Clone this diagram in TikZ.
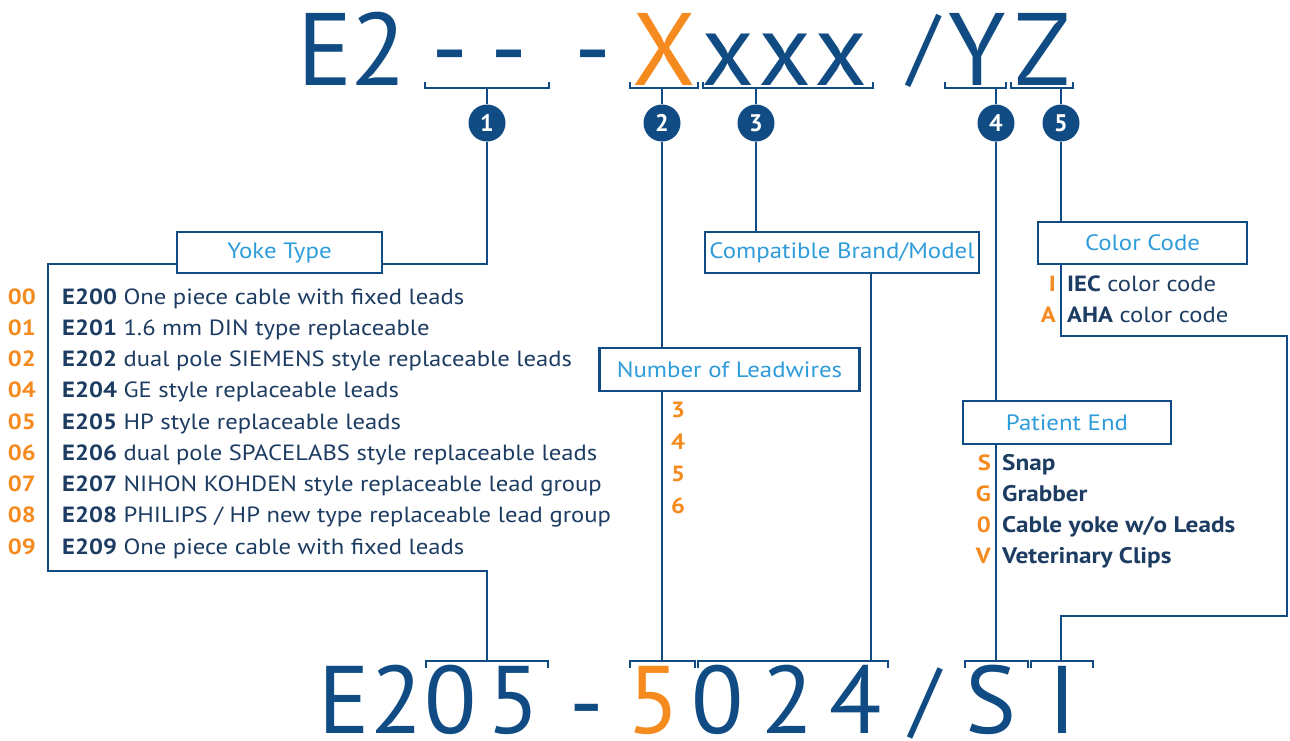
\documentclass[tikz,border=0pt]{standalone}
\usepackage{fontspec}
\setmainfont{PT Sans}
\newfontfamily\smf{PT Sans}[FakeStretch=1.12]
\definecolor{navy}{HTML}{104C83}
\definecolor{textnavy}{HTML}{1D3C62}
\definecolor{orng}{HTML}{F58A1F}
\definecolor{lblue}{HTML}{2E9CDB}
\tikzset{
  conn/.style={draw=navy, line width=2.4pt},
  brk/.style={draw=navy, line width=2.2pt},
  lbl/.style={draw=navy, line width=2.2pt, fill=white, text=lblue, font=\smf\fontsize{22.2}{24}\selectfont, inner sep=0pt},
  circ/.style={circle, fill=navy, text=white, font=\bfseries\fontsize{24}{24}\selectfont, minimum size=37pt, inner sep=0pt},
  bigt/.style={anchor=base, inner sep=0pt, text=navy, font=\fontsize{103}{110}\selectfont},
  bigb/.style={anchor=base, inner sep=0pt, text=navy, font=\fontsize{96}{100}\selectfont},
  numr/.style={anchor=base east, inner sep=0pt, text=orng, font=\smf\bfseries\fontsize{22}{24}\selectfont},
  numl/.style={anchor=base west, inner sep=0pt, text=orng, font=\smf\bfseries\fontsize{22}{24}\selectfont},
  desc/.style={anchor=base west, inner sep=0pt, text=textnavy, font=\smf\fontsize{22}{24}\selectfont},
  descb/.style={desc, font=\smf\bfseries\fontsize{22.5}{24}\selectfont}
}
\begin{document}
\begin{tikzpicture}[x=1pt,y=-1pt]
\useasboundingbox[fill=white] (0,0) rectangle (1290,740);

% ---------- top code ----------
\node[bigt] (tE) at (325,85) {E};
\node[bigt] (t2) at (378.5,85) {2};
\node[bigt] (td1) at (450,83) {-};
\node[bigt] (td2) at (509.5,83) {-};
\node[bigt] (td3) at (593.5,83) {-};
\node[bigt, text=orng] (tX) at (664,85) {X};
\node[bigt] (tx1) at (728.5,85) {x};
\node[bigt] (tx2) at (785,85) {x};
\node[bigt] (tx3) at (841.5,85) {x};
\node[bigt, font=\fontsize{86}{90}\selectfont] (tsl) at (923.5,75) {/};
\node[bigt] (tY) at (977.5,85) {Y};
\node[bigt] (tZ) at (1042.5,85) {Z};

% top brackets
\draw[brk] (425,82) |- (549,88) -- (549,82);
\draw[brk] (630,82) |- (698,88) -- (698,82);
\draw[brk] (703,82) |- (873,88) -- (873,82);
\draw[brk] (945,82) |- (1006,88) -- (1006,82);
\draw[brk] (1011,82) |- (1073,88) -- (1073,82);
\coordinate (b1) at (487,88);
\coordinate (b2) at (662,88);
\coordinate (b3) at (756,88);
\coordinate (b4) at (996,88);
\coordinate (b5) at (1061,88);

% circles
\node[circ] (c1) at (487,123) {1};
\node[circ] (c2) at (662,123) {2};
\node[circ] (c3) at (756,123) {3};
\node[circ] (c4) at (996,123) {4};
\node[circ] (c5) at (1061,123) {5};
\foreach \k in {1,...,5} \draw[conn] (c\k.north) -- (b\k);

% ---------- bottom code ----------
\node[bigb] (bE) at (344,733) {E};
\node[bigb] (b2a) at (396.5,733) {2};
\node[bigb] (b0a) at (450.5,733) {0};
\node[bigb] (b5a) at (513.5,733) {5};
\node[bigb] (bd) at (586.5,735) {-};
\node[bigb, text=orng] (b5b) at (654,733) {5};
\node[bigb] (b0b) at (717.5,733) {0};
\node[bigb] (b2b) at (787.5,733) {2};
\node[bigb] (b4b) at (856,733) {4};
\node[bigb, font=\fontsize{84}{90}\selectfont] (bsl) at (925,727) {/};
\node[bigb] (bS) at (991,733) {S};
\node[bigb] (bI) at (1062.5,733) {I};

% bottom brackets
\draw[brk] (426,668) |- (548,661) -- (548,668);
\draw[brk] (630,668) |- (695,661) -- (695,668);
\draw[brk] (698,668) |- (888,661) -- (888,668);
\draw[brk] (965,668) |- (1028,661) -- (1028,668);
\draw[brk] (1031,668) |- (1093,661) -- (1093,668);
\coordinate (B1) at (487,661);
\coordinate (B2) at (662,661);
\coordinate (B3) at (871,661);
\coordinate (B4) at (996,661);
\coordinate (B5) at (1061,661);

% ---------- connectors ----------
\coordinate (k1) at (487,264);
\coordinate (f1) at (48,264);
\coordinate (f2) at (48,571);
\coordinate (f3) at (487,571);
\coordinate (r1) at (1061,336);
\coordinate (r2) at (1287,336);
\coordinate (r3) at (1287,616);
\coordinate (r4) at (1061,616);

\node[lbl, minimum width=205pt, minimum height=41pt] (yoke) at (279.5,252.5) {Yoke Type};
\node[lbl, minimum width=274pt, minimum height=41pt] (compat) at (842,252.5) {Compatible Brand/Model};
\node[lbl, minimum width=260pt, minimum height=43pt] (lead) at (729.5,369.5) {Number of Leadwires};
\node[lbl, minimum width=209pt, minimum height=42pt] (color) at (1142.5,243) {Color Code};
\node[lbl, minimum width=208pt, minimum height=43pt] (patient) at (1067,422.5) {Patient End};

\draw[conn] (c1.south) -- (k1) -- (yoke.east |- k1);
\draw[conn] (yoke.west |- k1) -- (f1) -- (f2) -- (f3) -- (B1);
\draw[conn] (c2.south) -- (c2 |- lead.north);
\draw[conn] (c2 |- lead.south) -- (B2);
\draw[conn] (c3.south) -- (c3 |- compat.north);
\draw[conn] (B3 |- compat.south) -- (B3);
\draw[conn] (c4.south) -- (c4 |- patient.north);
\draw[conn] (c4 |- patient.south) -- (B4);
\draw[conn] (c5.south) -- (c5 |- color.north);
\draw[conn] (c5 |- color.south) -- (r1) -- (r2) -- (r3) -- (r4) -- (B5);

% ---------- yoke list ----------
\node[numr] (n0) at (36,304) {00};
\node[numr] (n1) at (36,335.25) {01};
\node[numr] (n2) at (36,366.5) {02};
\node[numr] (n3) at (36,397.75) {04};
\node[numr] (n4) at (36,429) {05};
\node[numr] (n5) at (36,460.25) {06};
\node[numr] (n6) at (36,491.5) {07};
\node[numr] (n7) at (36,522.75) {08};
\node[numr] (n8) at (36,554) {09};
\node[desc] (d0) at (62,304) {\textbf{E200} One piece cable with fixed leads};
\node[desc] (d1) at (62,335.25) {\textbf{E201} 1.6 mm DIN type replaceable};
\node[desc] (d2) at (62,366.5) {\textbf{E202} dual pole SIEMENS style replaceable leads};
\node[desc] (d3) at (62,397.75) {\textbf{E204} GE style replaceable leads};
\node[desc] (d4) at (62,429) {\textbf{E205} HP style replaceable leads};
\node[desc] (d5) at (62,460.25) {\textbf{E206} dual pole SPACELABS style replaceable leads};
\node[desc] (d6) at (62,491.5) {\textbf{E207} NIHON KOHDEN style replaceable lead group};
\node[desc] (d7) at (62,522.75) {\textbf{E208} PHILIPS / HP new type replaceable lead group};
\node[desc] (d8) at (62,554) {\textbf{E209} One piece cable with fixed leads};

% ---------- leadwires ----------
\node[numl] (w3) at (671,417) {3};
\node[numl] (w4) at (671,449) {4};
\node[numl] (w5) at (671,481) {5};
\node[numl] (w6) at (671,513) {6};

% ---------- color code ----------
\node[numr] (ci) at (1056,291) {I};
\node[numr] (ca) at (1056,322) {A};
\node[desc] (cit) at (1067,291) {\textbf{IEC} color code};
\node[desc] (cat) at (1067,322) {\textbf{AHA} color code};

% ---------- patient end ----------
\node[numr] (ps) at (991,470) {S};
\node[numr] (pg) at (991,501) {G};
\node[numr] (p0) at (991,532) {0};
\node[numr] (pv) at (991,563) {V};
\node[descb] (pst) at (1002,470) {Snap};
\node[descb] (pgt) at (1002,501) {Grabber};
\node[descb] (p0t) at (1002,532) {Cable yoke w/o Leads};
\node[descb] (pvt) at (1002,563) {Veterinary Clips};
\end{tikzpicture}
\end{document}
